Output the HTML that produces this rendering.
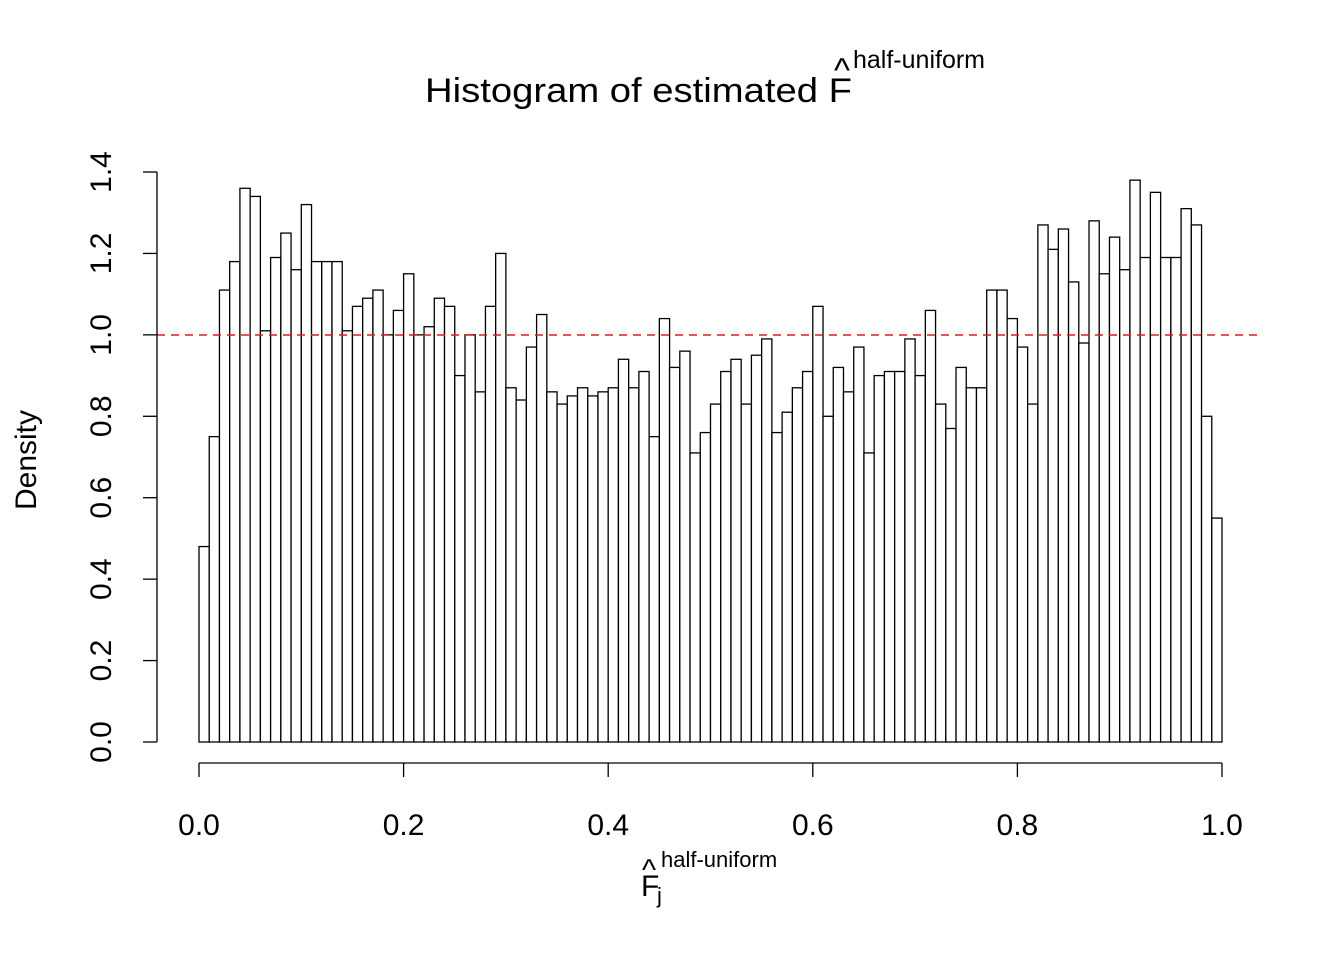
<!DOCTYPE html>
<html><head><meta charset="utf-8"><style>body{margin:0;background:#fff}svg{display:block}text{font-family:"Liberation Sans",Arial,sans-serif;fill:#000}</style></head>
<body>
<svg id="s" width="1344" height="960" xmlns="http://www.w3.org/2000/svg">
<text x="425" y="102" style="font-size:34px" textLength="427" lengthAdjust="spacingAndGlyphs">Histogram of estimated F</text>
<text x="842" y="82" style="font-size:34px" text-anchor="middle">^</text>
<text x="853" y="68" style="font-size:25px">half-uniform</text>
<text transform="translate(36,460) rotate(-90)" style="font-size:30px" text-anchor="middle">Density</text>
<text x="641" y="896" style="font-size:30px">F</text>
<text x="642" y="880" style="font-size:30px">^</text>
<text x="661" y="867" style="font-size:22px">half-uniform</text>
<text x="657" y="903" style="font-size:22px">j</text>
<g id="bars" fill="#fff" stroke="#000" stroke-width="1.3"></g>
<line x1="157" y1="335" x2="1260" y2="335" stroke="#e41a1c" stroke-width="1.5" stroke-dasharray="8,6"/>
<g id="ax" stroke="#000" stroke-width="1.3" fill="none"></g>
<g id="lab" style="font-size:30px"></g>
</svg>
<script>
var v=[0.48,0.75,1.11,1.18,1.36,1.34,1.01,1.19,1.25,1.16,1.32,1.18,1.18,1.18,1.01,1.07,1.09,1.11,1.00,1.06,1.15,1.00,1.02,1.09,1.07,0.90,1.00,0.86,1.07,1.20,0.87,0.84,0.97,1.05,0.86,0.83,0.85,0.87,0.85,0.86,0.87,0.94,0.87,0.91,0.75,1.04,0.92,0.96,0.71,0.76,0.83,0.91,0.94,0.83,0.95,0.99,0.76,0.81,0.87,0.91,1.07,0.80,0.92,0.86,0.97,0.71,0.90,0.91,0.91,0.99,0.90,1.06,0.83,0.77,0.92,0.87,0.87,1.11,1.11,1.04,0.97,0.83,1.27,1.21,1.26,1.13,0.98,1.28,1.15,1.24,1.16,1.38,1.19,1.35,1.19,1.19,1.31,1.27,0.80,0.55];
var NS="http://www.w3.org/2000/svg",b=document.getElementById("bars"),ax=document.getElementById("ax"),lab=document.getElementById("lab");
function el(p,t,a,txt){var e=document.createElementNS(NS,t);for(var k in a)e.setAttribute(k,a[k]);if(txt)e.textContent=txt;p.appendChild(e);return e;}
var X=function(x){return 199+x*1023},Y=function(y){return 742-y*407.14};
v.forEach(function(h,i){el(b,"rect",{x:X(i/100),y:Y(h),width:10.23,height:h*407.14});});
el(ax,"line",{x1:157,y1:Y(0),x2:157,y2:Y(1.4)});
for(var i=0;i<=7;i++){var y=Y(i*0.2);el(ax,"line",{x1:143,y1:y,x2:157,y2:y});
el(lab,"text",{transform:"translate(111,"+y+") rotate(-90)","text-anchor":"middle"},(i*0.2).toFixed(1));}
el(ax,"line",{x1:199,y1:763,x2:1222,y2:763});
for(var i=0;i<=5;i++){var x=X(i*0.2);el(ax,"line",{x1:x,y1:763,x2:x,y2:777});
el(lab,"text",{x:x,y:835,"text-anchor":"middle"},(i*0.2).toFixed(1));}
</script>
</body></html>
